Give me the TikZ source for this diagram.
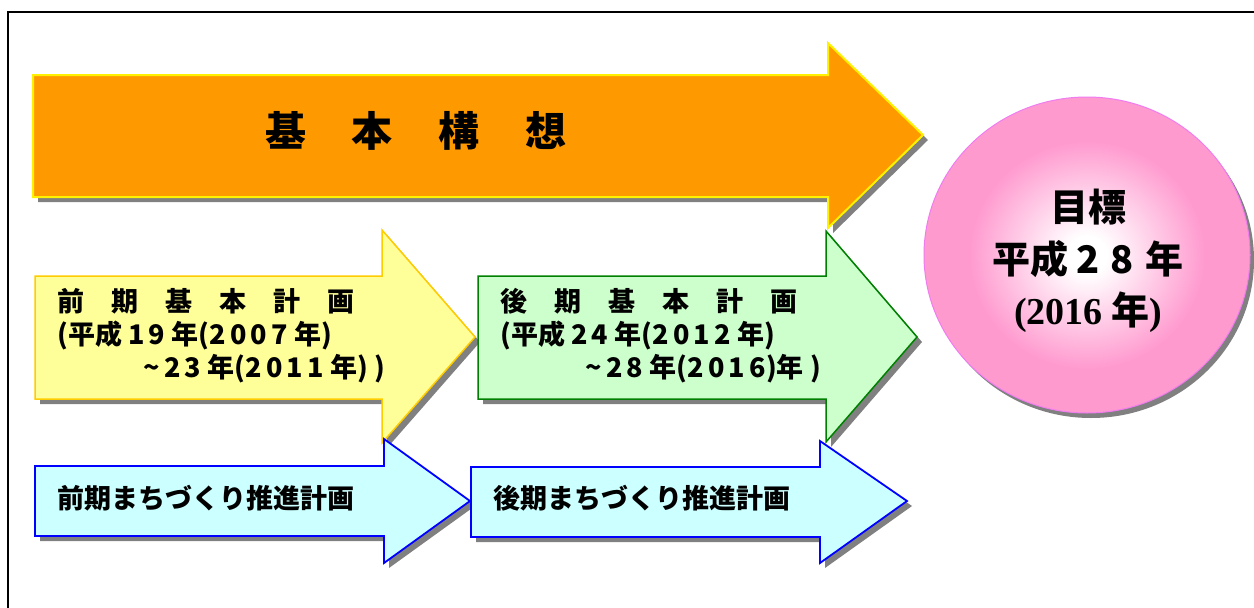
\documentclass[tikz,border=0pt]{standalone}
\usepackage{fontspec}
\setmainfont{Noto Sans CJK JP}
\newfontfamily\sernum{Liberation Serif}
\newcommand\spd[1]{{\addfontfeatures{LetterSpace=16}#1}}
\newcommand\spw[1]{{\addfontfeatures{LetterSpace=28}#1}}
\definecolor{orng}{HTML}{FF9900}
\definecolor{ylw}{HTML}{FFFF99}
\definecolor{gold}{HTML}{FFCC00}
\definecolor{grn}{HTML}{CCFFCC}
\definecolor{dgrn}{HTML}{008000}
\definecolor{cyn}{HTML}{CCFFFF}
\definecolor{shd}{HTML}{808080}
\definecolor{pk}{HTML}{FF9ACF}
\definecolor{pkline}{HTML}{F07CF0}
\pgfdeclareradialshading{pinkball}{\pgfpoint{0bp}{0bp}}{color(0bp)=(white); color(3bp)=(white); color(18bp)=(pk); color(50bp)=(pk)}
\begin{document}
\begin{tikzpicture}[x=1pt,y=-1pt,
  shadow/.style={fill=shd,draw=none,shift={(5,5)}},
  smalltxt/.style={font=\fontsize{27}{32}\selectfont\bfseries,inner sep=0pt,anchor=west},
  bigtxt/.style={font=\fontsize{41}{48}\selectfont\bfseries,inner sep=0pt},
  circtxt/.style={font=\fontsize{38}{44}\selectfont\bfseries,inner sep=0pt}]
\useasboundingbox (0,0) rectangle (1254,608);
\clip (0,0) rectangle (1254,608);
\fill[white] (0,0) rectangle (1254,608);
\draw[line width=2pt,black] (8,12) rectangle (1330,700);
% orange arrow
\path[shadow] (33,75) -- (828,75) -- (828,43) -- (923,135) -- (828,228) -- (828,197) -- (33,197) -- cycle;
\path[fill=orng,draw=yellow,line width=2pt] (33,75) -- (828,75) -- (828,43) -- (923,135) -- (828,228) -- (828,197) -- (33,197) -- cycle;
% yellow arrow
\path[shadow] (35,276) -- (382,276) -- (382,230) -- (475,337) -- (382,443) -- (382,399) -- (35,399) -- cycle;
\path[fill=ylw,draw=gold,line width=1.5pt] (35,276) -- (382,276) -- (382,230) -- (475,337) -- (382,443) -- (382,399) -- (35,399) -- cycle;
% green arrow
\path[shadow] (478,276) -- (826,276) -- (826,231) -- (917,337) -- (826,442) -- (826,399) -- (478,399) -- cycle;
\path[fill=grn,draw=dgrn,line width=1.5pt] (478,276) -- (826,276) -- (826,231) -- (917,337) -- (826,442) -- (826,399) -- (478,399) -- cycle;
% blue arrows
\path[shadow] (35,466) -- (384,466) -- (384,439) -- (470,501) -- (384,563) -- (384,536) -- (35,536) -- cycle;
\path[fill=cyn,draw=blue,line width=1.8pt] (35,466) -- (384,466) -- (384,439) -- (470,501) -- (384,563) -- (384,536) -- (35,536) -- cycle;
\path[shadow] (471,467) -- (820,467) -- (820,441) -- (907,501) -- (820,563) -- (820,537) -- (471,537) -- cycle;
\path[fill=cyn,draw=blue,line width=1.8pt] (471,467) -- (820,467) -- (820,441) -- (907,501) -- (820,563) -- (820,537) -- (471,537) -- cycle;
% goal circle
\fill[shd] (1091,260) ellipse [x radius=163, y radius=158];
\shade[shading=pinkball] (1087,255) ellipse [x radius=163, y radius=158];
\draw[pkline,line width=1pt] (1087,255) ellipse [x radius=163, y radius=158];
% texts
\node[bigtxt] (kihon) at (416,131) {基\hspace{46pt}本\hspace{46pt}構\hspace{46pt}想};
\node[smalltxt] (zen1) at (57,301) {前\hspace{27pt}期\hspace{27pt}基\hspace{27pt}本\hspace{27pt}計\hspace{27pt}画};
\node[smalltxt] (zen2) at (57,335) {(平成 \spd{19} 年(\spd{2007} 年)};
\node[smalltxt] (zen3) at (143,369) {\textasciitilde\,\spd{23} 年(\spd{2011} 年) )};
\node[smalltxt] (kou1) at (500,301) {後\hspace{27pt}期\hspace{27pt}基\hspace{27pt}本\hspace{27pt}計\hspace{27pt}画};
\node[smalltxt] (kou2) at (500,335) {(平成 \spd{24} 年(\spd{2012} 年)};
\node[smalltxt] (kou3) at (585,369) {\textasciitilde\,\spd{28} 年(\spd{2016})年 )};
\node[smalltxt] (mz) at (57,498) {前期まちづくり推進計画};
\node[smalltxt] (mk) at (493,498) {後期まちづくり推進計画};
\node[circtxt] (goal1) at (1088,207) {目標};
\node[circtxt] (goal2) at (1088,259) {平成\hspace{8pt}\spw{28}\hspace{12pt}年};
\node[circtxt] (goal3) at (1088,312) {{\sernum (2016} 年{\sernum )}};
\end{tikzpicture}
\end{document}
